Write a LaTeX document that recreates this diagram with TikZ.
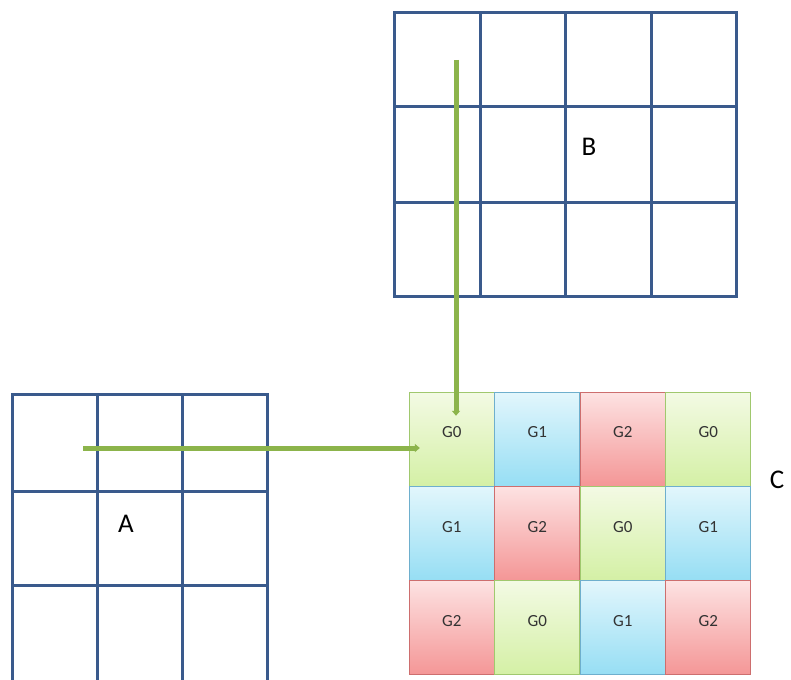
\documentclass[tikz,border=0pt]{standalone}
\usepackage{fontspec}
\setmainfont{Carlito}
\usetikzlibrary{arrows.meta}
\definecolor{gridblue}{RGB}{58,90,140}
\definecolor{linkgreen}{RGB}{140,180,75}
\definecolor{gzerotop}{RGB}{243,250,228}
\definecolor{gzerobot}{RGB}{212,240,165}
\definecolor{gzeroline}{RGB}{160,200,110}
\definecolor{gonetop}{RGB}{226,246,252}
\definecolor{gonebot}{RGB}{150,222,244}
\definecolor{goneline}{RGB}{110,175,205}
\definecolor{gtwotop}{RGB}{253,226,226}
\definecolor{gtwobot}{RGB}{244,150,150}
\definecolor{gtwoline}{RGB}{205,110,110}

\begin{document}
\begin{tikzpicture}[x=1pt,y=-1pt,
	gridline/.style={draw=gridblue, line width=3pt, line cap=rect},
	link/.style={draw=linkgreen, line width=5pt, -{Triangle[length=5pt,width=8pt]}},
	cell/.style={draw, line width=.8pt, minimum width=85pt, minimum height=94pt, inner sep=0pt, text depth=14pt, font=\fontsize{17}{20}\selectfont, text=black!80},
	grp0/.style={draw=gzeroline, top color=gzerotop, bottom color=gzerobot},
	grp1/.style={draw=goneline, top color=gonetop, bottom color=gonebot},
	grp2/.style={draw=gtwoline, top color=gtwotop, bottom color=gtwobot},
	biglabel/.style={font=\fontsize{27}{30}\selectfont}]
	\useasboundingbox (0,0) rectangle (791,679);

	\foreach \x in {12,97,182,267} \draw[gridline] (\x,394) -- (\x,679);
	\foreach \y in {394,491,585} \draw[gridline] (12,\y) -- (267,\y);
	\node[biglabel] (alabel) at (126,524) {A};

	\foreach \x in {394,480,565,651,736} \draw[gridline] (\x,13) -- (\x,296);
	\foreach \y in {13,107,202,296} \draw[gridline] (394,\y) -- (736,\y);
	\node[biglabel] (blabel) at (589,147) {B};

	\foreach \r in {0,1,2} \foreach \c in {0,1,2,3} {
		\pgfmathtruncatemacro{\g}{mod(\r+\c,3)}
		\node[cell, grp\g] (c\r\c) at (451.75+85.5*\c, 439.2+94.3*\r) {G\g};
	}
	\node[biglabel] (clabel) at (777,480) {C};

	\coordinate (astart) at (83,448);
	\coordinate (bstart) at (456,60);
	\draw[link, shorten >=-11pt] (astart) -- (astart -| c00.west);
	\draw[link, shorten >=-24pt] (bstart) -- (bstart |- c00.north);
\end{tikzpicture}
\end{document}
